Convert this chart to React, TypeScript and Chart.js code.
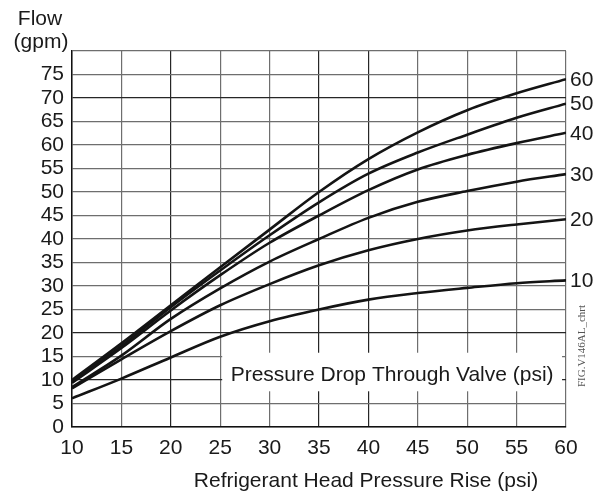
import React, { useEffect, useRef } from "react";
import { Chart, registerables } from "chart.js";

Chart.register(...registerables);

// Refrigerant head pressure rise (psi)
const pressureRise = [10, 15, 20, 25, 30, 35, 40, 45, 50, 55, 60];

// Flow (gpm) for each pressure drop through valve (psi)
const drop60 = [10.0, 17.8, 25.9, 34.0, 42.0, 50.0, 57.0, 62.7, 67.4, 71.0, 74.0];
const drop50 = [9.6, 17.2, 25.5, 33.3, 40.8, 47.8, 53.9, 58.4, 62.2, 65.8, 68.8];
const drop40 = [9.4, 16.8, 24.8, 32.3, 39.2, 45.0, 50.4, 54.8, 57.9, 60.4, 62.6];
const drop30 = [8.5, 15.2, 23.0, 29.5, 35.2, 40.0, 44.5, 47.9, 50.2, 52.2, 53.8];
const drop20 = [8.2, 14.4, 20.4, 25.9, 30.4, 34.4, 37.6, 40.0, 41.8, 43.1, 44.2];
const drop10 = [6.1, 10.3, 14.8, 19.2, 22.5, 25.0, 27.1, 28.5, 29.6, 30.6, 31.2];

const dropLabels = ["60", "50", "40", "30", "20", "10"];
const seriesList = [drop60, drop50, drop40, drop30, drop20, drop10];

const yTitleLines = ["Flow", "(gpm)"];
const xTitle = "Refrigerant Head Pressure Rise (psi)";
const boxText = "Pressure Drop Through Valve (psi)";
const figText = "FIG.V146AL_chrt";

const darkX = [20, 35, 40];
const darkY = [70, 20, 10];

const FONT = "'Liberation Sans', Arial, sans-serif";

export default function App() {
  const ref = useRef<HTMLCanvasElement>(null);

  useEffect(() => {
    document.body.style.margin = "0";
    const canvas = ref.current;
    if (!canvas) return;

    const datasets = seriesList.map((s, i) => ({
      label: dropLabels[i],
      data: s.map((v, j) => ({ x: pressureRise[j], y: v })),
      borderColor: "#141414",
      borderWidth: 2.6,
      pointRadius: 0,
      fill: false,
      cubicInterpolationMode: "monotone" as const,
    }));

    const overlay = {
      id: "overlay",
      beforeDatasetsDraw(chart: any) {
        const { ctx, scales } = chart;
        const x = scales.x;
        const y = scales.y;
        const x0 = x.getPixelForValue(25.2);
        const x1 = x.getPixelForValue(59.6);
        const y0 = y.getPixelForValue(15.8);
        const y1 = y.getPixelForValue(7.6);
        ctx.save();
        ctx.fillStyle = "#ffffff";
        ctx.fillRect(x0, y0, x1 - x0, y1 - y0);
        ctx.fillStyle = "#1a1a1a";
        ctx.font = `21px ${FONT}`;
        ctx.textAlign = "center";
        ctx.textBaseline = "alphabetic";
        ctx.fillText(boxText, (x0 + x1) / 2, y0 + 28);
        ctx.restore();
      },
      afterDraw(chart: any) {
        const { ctx, scales } = chart;
        const x = scales.x;
        const y = scales.y;
        ctx.save();
        ctx.fillStyle = "#1a1a1a";
        ctx.font = `21px ${FONT}`;
        ctx.textAlign = "left";
        ctx.textBaseline = "middle";
        chart.data.datasets.forEach((ds: any) => {
          const last = ds.data[ds.data.length - 1];
          ctx.fillText(ds.label, x.getPixelForValue(last.x) + 4, y.getPixelForValue(last.y) + 1);
        });
        ctx.textAlign = "center";
        ctx.textBaseline = "alphabetic";
        ctx.fillText(yTitleLines[0], 40, 25);
        ctx.fillText(yTitleLines[1], 41, 48);
        ctx.fillText(xTitle, 366, 487);
        ctx.translate(585, 346);
        ctx.rotate(-Math.PI / 2);
        ctx.font = `11px 'Liberation Serif', 'DejaVu Serif', serif`;
        ctx.fillStyle = "#555";
        ctx.textBaseline = "alphabetic";
        ctx.fillText(figText, 0, 0);
        ctx.restore();
      },
    };

    const chart = new Chart(canvas, {
      type: "line",
      data: { datasets },
      options: {
        responsive: false,
        animation: false,
        layout: { padding: { left: 0, right: 34, top: 51, bottom: 0 } },
        plugins: { legend: { display: false }, tooltip: { enabled: false } },
        scales: {
          x: {
            type: "linear",
            min: 10,
            max: 60,
            ticks: {
              stepSize: 5,
              autoSkip: false,
              color: "#1a1a1a",
              font: { family: FONT, size: 21 },
              padding: 9,
              maxRotation: 0,
            },
            grid: {
              drawTicks: false,
              lineWidth: 1.2,
              color: (c: any) => (darkX.includes(c.tick?.value) ? "#262626" : "#6e6e6e"),
            },
            border: { color: "#111", width: 1.5 },
            afterFit(s: any) {
              s.height = 67;
            },
          },
          y: {
            type: "linear",
            min: 0,
            max: 80,
            ticks: {
              stepSize: 5,
              autoSkip: false,
              color: "#1a1a1a",
              font: { family: FONT, size: 21, lineHeight: 1 },
              padding: 8,
              callback: (v: any) => (v === 80 ? "" : String(v)),
            },
            grid: {
              drawTicks: false,
              lineWidth: 1.2,
              color: (c: any) => (darkY.includes(c.tick?.value) ? "#262626" : "#6e6e6e"),
            },
            border: { color: "#111", width: 1.5 },
            afterFit(s: any) {
              s.width = 72;
            },
          },
        },
      },
      plugins: [overlay],
    });

    return () => chart.destroy();
  }, []);

  return <canvas ref={ref} width={600} height={494} style={{ display: "block" }} />;
}
